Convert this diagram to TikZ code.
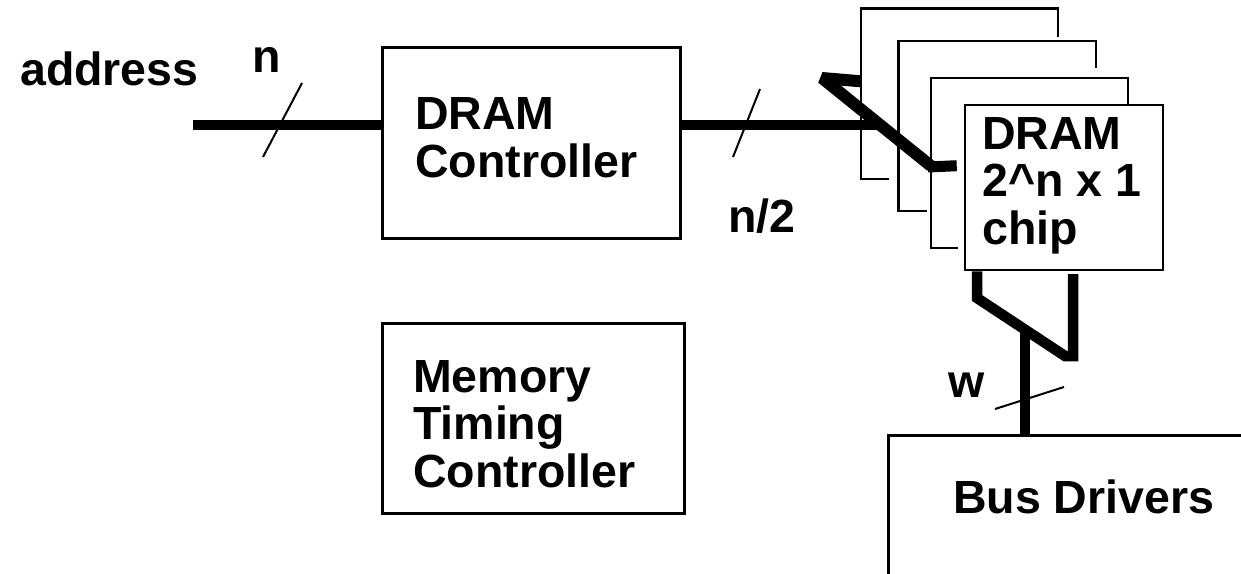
\documentclass[tikz,border=0pt]{standalone}
\usepackage{fontspec}
\setmainfont{Liberation Sans}
\usetikzlibrary{calc}
\begin{document}
\begin{tikzpicture}[x=1pt,y=-1pt,
  lbl/.style={font=\fontsize{46.5}{47.5}\selectfont\bfseries, inner sep=0pt, align=left},
  box/.style={draw, line width=3pt, rectangle, inner sep=0pt},
  chipbox/.style={rectangle, inner sep=0pt, minimum width=197, minimum height=170},
  frame/.style={line width=2.4pt, line cap=rect},
  bus/.style={line width=10.5pt},
  slash/.style={line width=2pt}]
\useasboundingbox (0,0) rectangle (1241,573);
\clip (0,0) rectangle (1241,573);

% controller boxes (multi-line labels are anchored on their last baseline)
\node[box, minimum width=298, minimum height=191] (ctrl) at (531,142.5) {};
\node[box, minimum width=302, minimum height=190] (mtc) at (533,418) {};
\node[lbl, anchor=base west] (ctrltxt) at (415,177) {DRAM\\Controller};
\node[lbl, anchor=base west] (mtctxt) at (413,487) {Memory\\Timing\\Controller};

% stack of DRAM chips, back to front
\node[chipbox] (chipA) at (959.5,93.5) {};
\node[chipbox] (chipB) at (997,126) {};
\node[chipbox] (chipC) at (1029.5,163) {};
\draw[frame] ($(chipA.south west)+(27,0)$) -- (chipA.south west) -- (chipA.north west)
  -- (chipA.north east) -- ($(chipA.north east)+(0,27)$);
\draw[frame] ($(chipB.south west)+(27,0)$) -- (chipB.south west) -- (chipB.north west)
  -- (chipB.north east) -- ($(chipB.north east)+(0,26)$);
\draw[frame] ($(chipC.south west)+(26,0)$) -- (chipC.south west) -- (chipC.north west)
  -- (chipC.north east) -- ($(chipC.north east)+(0,25)$);
\node[chipbox, draw, line width=2.6pt, fill=white, minimum width=198, minimum height=165] (chip) at (1064,187.5) {};
\node[lbl, anchor=base west] (chiptxt) at (982,244) {DRAM\\2\^{}n x 1\\chip};

% bus drivers (runs off the page)
\node[box, minimum width=412, minimum height=185] (drv) at (1094,527.5) {};
\node[lbl, anchor=base west] (drvtxt) at (953,513) {Bus Drivers};

% address input
\node[lbl, anchor=base west] (addr) at (20,85) {address};
\coordinate (ain) at (193,125);
\draw[bus] (ain) -- (ain -| ctrl.west);
\coordinate (s1a) at (302,83);
\coordinate (s1b) at (263,157);
\draw[slash] (s1a) -- (s1b);
\node[lbl, anchor=base] (nlbl) at (267,72) {n};

% row/column address to the chips
\coordinate (j1) at (878,125);
\coordinate (ra) at (822,78);
\coordinate (rb) at (931,166);
\draw[bus, line width=12pt, line join=bevel] ($(chipA.north west)+(0,73)$) -- (ra) -- (rb);
\draw[bus, line width=11pt] ($(rb)+(-3,1)$) -- ($(chip.north west)+(-7,62)$);
\draw[bus] (j1 -| ctrl.east) -- (j1);
\coordinate (s2a) at (760,89);
\coordinate (s2b) at (733,157);
\draw[slash] (s2a) -- (s2b);
\node[lbl, anchor=base west] (n2lbl) at (728,232) {n/2};

% data outputs to the bus drivers
\coordinate (da) at (977,298);
\coordinate (db) at (1065,356);
\coordinate (dc) at (1073,356);
\draw[bus, line join=miter] (chip.south -| da) -- (da) -- (db) -- (dc) -- (1073,274);
\coordinate (tap) at (1025,330);
\draw[bus] (tap) -- (tap |- drv.north);
\coordinate (s3a) at (995,409);
\coordinate (s3b) at (1064,387);
\draw[slash] (s3a) -- (s3b);
\node[lbl, anchor=base west] (wlbl) at (948,397) {w};
\end{tikzpicture}
\end{document}
